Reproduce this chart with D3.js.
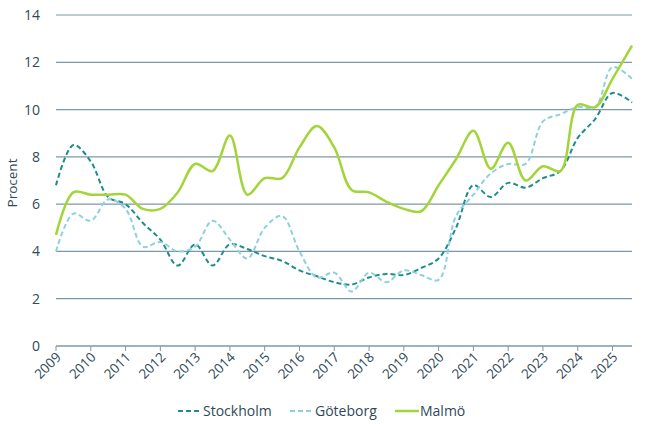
<!DOCTYPE html>
<html><head><meta charset="utf-8">
<script src="https://cdn.jsdelivr.net/npm/d3@7"></script>
<style>body{margin:0;background:#fff}</style></head>
<body><svg id="c" width="646" height="424"></svg>
<script>
const times=[2009,2009.5,2010,2010.5,2011,2011.5,2012,2012.5,2013,2013.5,2014,2014.5,2015,2015.5,2016,2016.5,2017,2017.5,2018,2018.5,2019,2019.5,2020,2020.5,2021,2021.5,2022,2022.5,2023,2023.5,2024,2024.5,2025,2025.56];
const stockholm=[6.8,8.5,7.8,6.3,6.0,5.2,4.5,3.4,4.3,3.4,4.3,4.1,3.8,3.6,3.2,2.95,2.7,2.6,2.9,3.05,3.0,3.3,3.7,5.0,6.8,6.3,6.9,6.7,7.1,7.4,8.8,9.6,10.7,10.3];
const goteborg=[4.0,5.6,5.3,6.2,5.8,4.2,4.4,4.0,4.2,5.3,4.5,3.7,5.0,5.5,4.0,2.9,3.1,2.3,3.1,2.7,3.2,3.0,2.8,5.5,6.4,7.3,7.7,7.7,9.5,9.8,10.1,10.1,11.8,11.3];
const malmo=[4.7,6.5,6.4,6.4,6.4,5.8,5.8,6.5,7.7,7.4,8.9,6.4,7.1,7.1,8.4,9.3,8.4,6.6,6.5,6.1,5.8,5.7,6.8,7.9,9.1,7.5,8.6,7.0,7.6,7.4,10.2,10.1,11.3,12.7];
const yTicks=[0,2,4,6,8,10,12,14];
const years=d3.range(2009,2026);
const series=[
 {name:"Stockholm",values:stockholm,color:"#1e8c8c",dash:"5,3",w:2},
 {name:"Göteborg",values:goteborg,color:"#8fd0df",dash:"5,3",w:2},
 {name:"Malmö",values:malmo,color:"#a3d53a",dash:null,w:2.5}];
const svg=d3.select("#c");
const x=d3.scaleLinear().domain([2009,2025.56]).range([56,632]);
const y=d3.scaleLinear().domain([0,14]).range([346,15]);
const txt="#2e4a5a", grid="#7e97a6";
const g=svg.append("g");
g.selectAll("line.g").data(yTicks.filter(d=>d>0)).join("line").attr("x1",56).attr("x2",632)
 .attr("y1",d=>y(d)).attr("y2",d=>y(d)).attr("stroke",grid).attr("stroke-width",1.2);
g.append("line").attr("x1",56).attr("x2",632).attr("y1",y(0)).attr("y2",y(0)).attr("stroke",grid).attr("stroke-width",1.5);
g.selectAll("line.t").data(years).join("line").attr("x1",d=>x(d)).attr("x2",d=>x(d))
 .attr("y1",y(0)).attr("y2",y(0)+5).attr("stroke",grid);
g.selectAll("text.y").data(yTicks).join("text").attr("x",40).attr("y",d=>y(d)+5).attr("text-anchor","end")
 .attr("font-family","Open Sans, sans-serif").attr("font-size",14).attr("fill",txt).text(d=>d);
g.selectAll("text.x").data(years).join("text")
 .attr("transform",d=>`translate(${x(d)+6},${y(0)+12}) rotate(-45)`).attr("text-anchor","end")
 .attr("font-family","Open Sans, sans-serif").attr("font-size",13.5).attr("fill",txt).text(d=>d);
svg.append("text").attr("transform","translate(17,183) rotate(-90)").attr("text-anchor","middle")
 .attr("font-family","Open Sans, sans-serif").attr("font-size",13.5).attr("fill",txt).text("Procent");
const line=d3.line().x((d,i)=>x(times[i])).y(d=>y(d)).curve(d3.curveCatmullRom.alpha(0.5));
series.forEach(s=>{
 svg.append("path").attr("d",line(s.values)).attr("fill","none").attr("stroke",s.color)
  .attr("stroke-width",s.w).attr("stroke-dasharray",s.dash);
});
const lg=[{s:series[0],x:178},{s:series[1],x:290},{s:series[2],x:395}];
lg.forEach(o=>{
 svg.append("line").attr("x1",o.x).attr("x2",o.x+24).attr("y1",411).attr("y2",411)
  .attr("stroke",o.s.color).attr("stroke-width",o.s.w).attr("stroke-dasharray",o.s.dash);
 svg.append("text").attr("x",o.x+25).attr("y",416).attr("font-family","Open Sans, sans-serif")
  .attr("font-size",14).attr("fill",txt).text(o.s.name);
});
</script></body></html>
